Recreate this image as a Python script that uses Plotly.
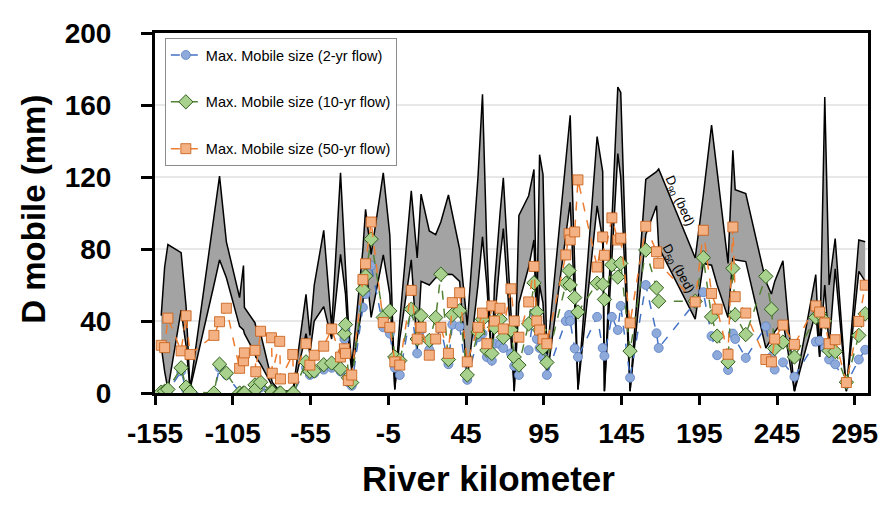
import plotly.graph_objects as go

# River kilometer stations
km = [-151.0, -148.8, -146.7, -138.2, -135.0, -132.5, -117.1, -113.5, -109.1, -100.6,
      -98.1, -97.5, -90.7, -90.2, -87.1, -80.1, -79.6, -74.8, -74.3, -66.4,
      -66.0, -57.9, -55.4, -52.6, -46.5, -41.4, -35.7, -33.2, -32.5, -30.7,
      -28.5, -21.3, -19.6, -16.0, -8.2, -4.0, -0.8, 2.4, 9.8, 13.6,
      16.1, 21.4, 25.5, 28.8, 33.7, 36.2, 40.9, 45.8, 52.7, 55.6,
      58.4, 61.6, 63.3, 66.9, 69.0, 73.9, 76.0, 79.0, 85.3, 88.7,
      90.5, 92.3, 94.5, 97.0, 109.2, 111.3, 112.0, 114.9, 117.0, 129.3,
      132.9, 134.0, 138.8, 142.6, 144.5, 150.5, 160.6, 167.5, 168.9, 192.4,
      197.6, 202.9, 206.5, 213.5, 216.6, 218.1, 224.9, 237.8, 241.4, 243.5,
      248.8, 256.2, 269.9, 272.4, 275.7, 278.5, 282.4, 289.6, 297.6, 301.7]

# Bed grain sizes (mm)
d90_bed = [43, 70, 82.5, 78, 48, 2, 98, 120.5, 84, 53,
           70.8, 47.5, 39, 37, 33, 8, 6, 1, 1, 1,
           3, 54.8, 32, 60, 90.4, 36.5, 122.3, 82, 70, 40,
           15, 80, 102, 77, 122.3, 87.7, 2, 40, 112.3, 75,
           110.5, 90, 88, 95, 110, 100, 80, 37.6, 120, 166,
           80, 15.5, 60, 100, 119.6, 45, 1, 98.6, 109.6, 124.2,
           40, 132.4, 121.4, 20, 129, 145, 154.3, 70, 2, 142.5,
           123, 1, 95, 170, 167, 1, 118.7, 123, 124.5, 75,
           110, 148.8, 123, 72, 134.8, 113, 110.8, 62, 55, 62,
           73.4, 1, 65.8, 20, 164.4, 60, 85.8, 1, 85, 84]

d50_bed = [26, 12, 2, 46, 26, 2, 60, 74, 64, 37,
           35, 33, 22, 20, 16, 5, 4, 1, 1, 1,
           2, 33, 22, 40, 48, 30, 77, 62, 55, 30,
           12, 50, 73, 42, 76.7, 54.8, 2, 30, 74, 24,
           62, 60, 64, 65, 66, 65.8, 62, 7.3, 60, 86.7,
           60, 15.5, 40, 75, 91.3, 30, 1, 50, 70, 85,
           30, 60, 50, 8, 88, 100, 106, 50, 2, 104,
           85, 1, 75, 133, 120, 1, 88, 104, 81, 41,
           72, 71, 60, 42, 75, 74, 73, 25, 30, 34,
           40, 1, 45, 20, 60, 25, 69, 1, 67.6, 62]

# Maximum mobile sizes (mm)
mobile_2yr = [0, 0.5, 1, 12, 2, 0, 0, 14, 10, 0.5,
              0, 0, 2, 1, 3, 0, 0, 0, 0, 0,
              0, 14, 10, 11, 13, 14, 12, 30, 35, 6,
              4, 47.5, 55, 70.8, 36.5, 33, 14, 10, 46.6, 22,
              35, 24, 30, 36, 16, 38, 37, 7.3, 31, 33,
              20, 18, 27.4, 27, 25, 22, 15, 10, 23.8, 44.4,
              30, 25, 20, 10, 40, 43.4, 40, 24.7, 20, 42.3,
              25, 20.6, 42.3, 35, 48.4, 8.5, 60, 33.2, 25, 50,
              56, 31.6, 21, 12.8, 33, 30, 19.5, 37, 20, 13,
              17, 9, 28.5, 29, 25, 18.6, 16, 5, 18.6, 24]

mobile_10yr = [0.5, 1, 2, 14, 3.3, 0.5, 0, 16, 11, 0,
               0, 0, 4.5, 2, 6, 1, 0.5, 0, 0, 0,
               0, 17.3, 12, 12.2, 15.7, 16.6, 13.4, 32.9, 38, 8.5,
               5.8, 57.5, 65, 85.5, 42, 45.6, 20, 18, 46.6, 30,
               43, 29.2, 41.9, 66, 18.6, 43.4, 45.7, 10, 33.8, 41,
               23.8, 22, 36.5, 41, 30.9, 35, 20, 15.5, 38.4, 61.2,
               45, 35, 25, 17, 61, 68, 60, 53, 45, 61,
               60.4, 52, 71.2, 64.4, 72, 23.3, 79.4, 58.4, 51, 51,
               75.2, 42.3, 31.6, 17.3, 69.2, 43.4, 32.5, 64.8, 46.6, 24.7,
               28.3, 20, 42, 44, 40, 23.5, 23, 6, 32, 44]

mobile_50yr = [26.5, 25.2, 41.6, 23.4, 42.9, 21.4, 32, 39.6, 47.1, 13.7,
               17.9, 22.3, 23.7, 11.8, 34.3, 30.7, 11, 28.7, 7.8, 21.4,
               8.2, 27.4, 15.5, 21, 26, 35.6, 20, 24.6, 22, 6.9,
               10, 63, 71.8, 95, 39.2, 36.5, 17.3, 15.5, 57, 30,
               36.5, 21, 30, 36.5, 22, 50.2, 55.7, 17.3, 36.5, 44.4,
               27.4, 48.4, 40, 47.1, 35.6, 57.9, 40, 31, 50.6, 70.3,
               40, 35, 30, 27.4, 76.7, 88.5, 85, 89.5, 118.4, 70,
               86.7, 76.5, 97.3, 85, 86, 38.9, 92.6, 78.5, 72.1, 50.6,
               90.4, 55.3, 46.6, 21.5, 92.2, 53.5, 44.4, 18.6, 17.3, 30,
               37.7, 27, 48.4, 45, 38.9, 27.4, 29.6, 5.8, 39.8, 59.9]

x_ticks = [-155, -105, -55, -5, 45, 95, 145, 195, 245, 295]
y_ticks = [0, 40, 80, 120, 160, 200]

FONT = "Liberation Sans, Arial, sans-serif"

fig = go.Figure()

# Bed D50 / D90 band
fig.add_trace(go.Scatter(x=km, y=d50_bed, mode="lines",
                         line=dict(color="black", width=1.5),
                         showlegend=False, hoverinfo="skip"))
fig.add_trace(go.Scatter(x=km, y=d90_bed, mode="lines",
                         line=dict(color="black", width=1.5),
                         fill="tonexty", fillcolor="#a3a3a3",
                         showlegend=False, hoverinfo="skip"))

fig.add_trace(go.Scatter(
    x=km, y=mobile_2yr, mode="lines+markers", name="Max. Mobile size (2-yr flow)",
    legendgroup="a",
    line=dict(color="#4472c4", width=1.5, dash="dash"),
    marker=dict(symbol="circle", size=9, color="#8eaadb",
                line=dict(color="#5b7fc4", width=0.8))))
fig.add_trace(go.Scatter(
    x=km, y=mobile_10yr, mode="lines+markers", name="Max. Mobile size (10-yr flow)",
    legendgroup="b",
    line=dict(color="#548235", width=1.5, dash="dash"),
    marker=dict(symbol="diamond", size=11, color="#a9d18e",
                line=dict(color="#2f5d1c", width=1))))
fig.add_trace(go.Scatter(
    x=km, y=mobile_50yr, mode="lines+markers", name="Max. Mobile size (50-yr flow)",
    legendgroup="c",
    line=dict(color="#ed7d31", width=1.5, dash="dash"),
    marker=dict(symbol="square", size=10, color="#f4b183",
                line=dict(color="#c55a11", width=0.8))))

fig.add_annotation(x=182, y=107, text="D<sub>90</sub> (bed)", showarrow=False,
                   textangle=66, font=dict(family=FONT, size=13, color="black"))
fig.add_annotation(x=181, y=69, text="D<sub>50</sub> (bed)", showarrow=False,
                   textangle=62, font=dict(family=FONT, size=13, color="black"))

# Axis titles as annotations
fig.add_annotation(xref="paper", yref="paper", x=0.4675, y=-0.238, yanchor="middle",
                   text="River kilometer", showarrow=False,
                   font=dict(family=FONT, size=35, color="black", weight="bold"))
fig.add_annotation(xref="paper", yref="paper", x=-0.1715, y=0.511, xanchor="center",
                   yanchor="middle",
                   text="D mobile (mm)", showarrow=False, textangle=-90,
                   font=dict(family=FONT, size=33, color="black", weight="bold"))

fig.update_layout(
    width=880, height=498,
    margin=dict(l=147, r=10, t=19, b=113),
    plot_bgcolor="white", paper_bgcolor="white",
    font=dict(family=FONT, color="black"),
    legend=dict(x=0.0138, y=0.986, xanchor="left", yanchor="top",
                bgcolor="white", bordercolor="#8c8c8c", borderwidth=1,
                font=dict(family=FONT, size=14.5, color="black"),
                tracegroupgap=25, itemwidth=30),
)
fig.update_xaxes(range=[-155, 303.5], tickvals=x_ticks, ticktext=[str(v) for v in x_ticks],
                 showgrid=False, zeroline=False,
                 showline=True, linecolor="black", linewidth=3, mirror=True,
                 ticks="outside", ticklen=9, tickwidth=2.5, tickcolor="black",
                 ticklabelstandoff=4,
                 tickfont=dict(family=FONT, size=28, color="black", weight="bold"))
fig.update_yaxes(range=[0, 200], tickvals=y_ticks, ticktext=[str(v) for v in y_ticks],
                 showgrid=True, gridcolor="#e8e8e8", gridwidth=1.5, zeroline=False,
                 showline=True, linecolor="black", linewidth=3, mirror=True,
                 ticks="outside", ticklen=11, tickwidth=2.5, tickcolor="black",
                 ticklabelstandoff=24,
                 tickfont=dict(family=FONT, size=28, color="black", weight="bold"))

fig.write_html("out.html")
